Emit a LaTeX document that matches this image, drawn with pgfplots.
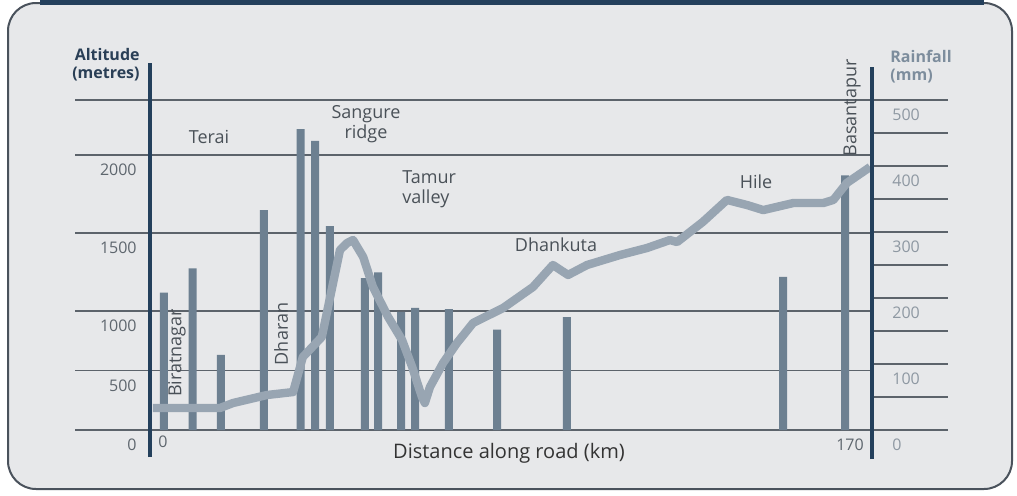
\documentclass[border=0pt]{standalone}
\usepackage{pgfplots}
\pgfplotsset{compat=1.18}
\usepackage{fontspec}
\setmainfont{Open Sans}
\definecolor{bg}{HTML}{E7E8EA}
\definecolor{framec}{HTML}{4A525C}
\definecolor{navy}{HTML}{24405C}
\definecolor{gridc}{HTML}{5C636B}
\definecolor{barc}{HTML}{6D8091}
\definecolor{linec}{HTML}{98A5B2}
\definecolor{txt}{HTML}{4A5158}
\definecolor{ticl}{HTML}{5E666E}
\definecolor{ticr}{HTML}{8E98A2}
\definecolor{rainc}{HTML}{7D8D9D}
\definecolor{altc}{HTML}{2A3F56}

\pgfplotstableread{
km mm
2.8 208
9.6 245
16.3 114
26.5 333
35.2 456
38.6 438
42.1 309
50.4 230
53.5 239
59.0 179
62.3 185
70.3 183
81.7 152
98.2 171
149.4 232
164.1 386
}\rainfall

\pgfplotstableread{
km alt
0.2 185
16.1 185
19.2 227
27.2 294
33.4 319
35.7 613
40.2 782
44.5 1391
46.2 1436
47.6 1455
50.0 1346
52.3 1154
55.9 950
59.2 756
61.6 529
63.9 277
64.6 227
65.8 361
68.9 563
72.2 731
76.0 899
83.1 1019
90.2 1154
94.9 1295
98.5 1231
103.0 1295
110.8 1359
117.2 1404
122.6 1455
124.3 1442
130.4 1571
136.1 1712
140.9 1679
144.7 1647
151.8 1692
158.9 1692
161.3 1712
164.5 1821
170.0 1923
}\altitude

\begin{document}
\begin{tikzpicture}
\path[use as bounding box] (0pt,0pt) rectangle (508.5pt,247.5pt);
\fill[white] (0pt,0pt) rectangle (508.5pt,247.5pt);
\draw[framec, line width=1pt, fill=bg, rounded corners=14pt] (4pt,3pt) rectangle (506pt,246pt);
\fill[navy] (20pt,245pt) rectangle (492pt,247.5pt);

% altitude grid + labels
\begin{axis}[at={(37.5pt,19pt)}, anchor=south west, scale only axis,
  width=398.5pt, height=197pt,
  xmin=-18.23, xmax=170.45, ymin=-226.9, ymax=3084,
  axis line style={draw=none}, major tick length=0pt, xtick=\empty,
  ytick={0,500,1000,1655.5,2311,2773},
  yticklabels={0,500,1000,1500,2000,{}},
  ymajorgrids, grid style={gridc, line width=0.6pt},
  yticklabel style={font=\fontsize{8}{9}\selectfont, text=ticl, anchor=east, inner sep=0pt, xshift=31pt, yshift=-7.5pt}]
\addplot[draw=none] coordinates {(0,0)};
\end{axis}

% right rainfall grid + labels
\begin{axis}[at={(436pt,19pt)}, anchor=south west, scale only axis,
  width=38pt, height=197pt,
  xmin=0, xmax=1, ymin=-40.9, ymax=556.1,
  axis line style={draw=none}, major tick length=0pt, minor tick length=0pt, xtick=\empty,
  ytick={0,100,200,300,400,500}, minor ytick={50,150,250,350,450},
  yticklabels={0,100,200,300,400,500},
  ymajorgrids, yminorgrids, grid style={gridc, line width=0.6pt},
  minor grid style={gridc, line width=0.6pt},
  yticklabel style={font=\fontsize{8}{9}\selectfont, text=ticr, anchor=west, inner sep=0pt, xshift=10pt, yshift=-7.5pt}]
\addplot[draw=none] coordinates {(0.5,0)};
\end{axis}

% rainfall bars
\begin{axis}[at={(37.5pt,19pt)}, anchor=south west, scale only axis,
  width=398.5pt, height=197pt,
  xmin=-18.23, xmax=170.45, ymin=-40.9, ymax=556.1, hide axis]
\addplot[ybar, bar width=4pt, fill=barc, draw=none] table[x=km, y=mm] {\rainfall};
\end{axis}

% altitude line
\begin{axis}[at={(37.5pt,19pt)}, anchor=south west, scale only axis,
  width=398.5pt, height=197pt,
  xmin=-18.23, xmax=170.45, ymin=-226.9, ymax=3084, hide axis]
\addplot[linec, line width=4.2pt, line join=round,
  y filter/.expression={y<=1000 ? y : 1000+(y-1000)*1.311}] table[x=km, y=alt] {\altitude};
\end{axis}

% axis lines
\draw[navy, line width=1.6pt] (75pt,19pt) -- (75pt,216pt);
\draw[navy, line width=1.6pt] (436pt,18pt) -- (436pt,214pt);

% texts
\node[font=\fontsize{8}{9}\selectfont\bfseries, text=altc, align=right, anchor=east, inner sep=0pt] at (70pt,215pt) {Altitude\\(metres)};
\node[font=\fontsize{8}{9}\selectfont\bfseries, text=rainc, align=left, anchor=west, inner sep=0pt] at (445pt,214pt) {Rainfall\\(mm)};
\begin{scope}[every node/.style={font=\fontsize{9}{10}\selectfont, text=txt, inner sep=0pt}]
\node at (104.5pt,179pt) {Terai};
\node[align=center] at (183pt,185.5pt) {Sangure\\ridge};
\node[align=left, anchor=west] at (201pt,153pt) {Tamur\\valley};
\node at (278pt,125pt) {Dhankuta};
\node at (378pt,156.5pt) {Hile};
\node[rotate=90] at (426pt,193.5pt) {Basantapur};
\node[rotate=90] at (88.5pt,71pt) {Biratnagar};
\node[rotate=90] at (140.5pt,80.5pt) {Dharan};
\node[font=\fontsize{10}{12}\selectfont, text=black!80] at (254.5pt,21pt) {Distance along road (km)};
\node[font=\fontsize{8}{9}\selectfont, text=ticl] at (81.5pt,26.5pt) {0};
\node[font=\fontsize{8}{9}\selectfont, text=ticl] at (425pt,25pt) {170};
\end{scope}
\end{tikzpicture}
\end{document}
